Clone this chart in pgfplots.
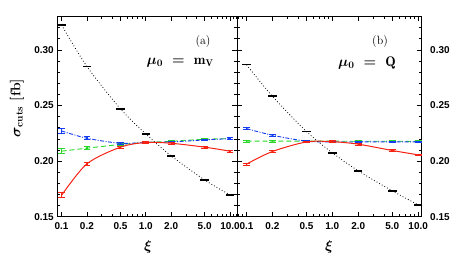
\documentclass[border=0pt]{standalone}
\usepackage{pgfplots}
\pgfplotsset{compat=1.18}
\usepackage{pgfplotstable}
\usepackage{amsmath}
\usepackage{fontspec}
\setsansfont{Liberation Sans}
\definecolor{cred}{RGB}{245,35,20}
\definecolor{cblue}{RGB}{20,60,240}
\definecolor{cgreen}{RGB}{40,215,40}

\pgfplotstableread{
x     black   blue    green   red     ered
0.1   0.3223  0.2271  0.2089  0.1692  0.0022
0.2   0.2850  0.2205  0.2116  0.1975  0.0012
0.5   0.2470  0.2160  0.2149  0.2125  0.0008
1.0   0.2244  0.2167  0.2167  0.2167  0.0008
2.0   0.2047  0.2172  0.2178  0.2160  0.0008
5.0   0.1830  0.2190  0.2196  0.2125  0.0008
10.0  0.1696  0.2202  0.2202  0.2089  0.0008
}\tabA

\pgfplotstableread{
x     black   blue    green   red     ered
0.1   0.2866  0.2292  0.2179  0.1973  0.0010
0.2   0.2583  0.2232  0.2179  0.2086  0.0008
0.5   0.2265  0.2179  0.2179  0.2172  0.0008
1.0   0.2074  0.2172  0.2179  0.2174  0.0008
2.0   0.1913  0.2172  0.2178  0.2152  0.0008
5.0   0.1732  0.2172  0.2178  0.2095  0.0008
10.0  0.1607  0.2172  0.2177  0.2056  0.0008
}\tabB

\begin{document}
\begin{tikzpicture}
\path[use as bounding box] (0bp,0bp) rectangle (472bp,257bp);

\begin{axis}[at={(57.3bp,40.3bp)}, anchor=south west, width=180bp,
  xmin=0.089, xmax=12.2,
    scale only axis, xmode=log, ymin=0.15, ymax=0.3304, height=200.7bp,
    xtick={0.1,0.2,0.5,1,2,5,10},
    xticklabels={0.1,0.2,0.5,1.0,2.0,5.0,10.0},
    minor xtick={0.08,0.09,0.3,0.4,0.6,0.7,0.8,0.9,3,4,6,7,8,9,11,12},
    ytick={0.15,0.20,0.25,0.30},
    minor ytick={0.16,0.17,0.18,0.19,0.21,0.22,0.23,0.24,0.26,0.27,0.28,0.29,0.31,0.32,0.33},
    yticklabels={0.15,0.20,0.25,0.30},
    tick align=inside, major tick length=5bp, minor tick length=3bp,
    tick style={black, line width=0.6pt},
    axis line style={line width=0.8pt},
    ticklabel style={font=\sffamily\bfseries\fontsize{10}{11}\selectfont},
    xticklabel style={yshift=-2.5bp},
    clip=false]
\addplot[cgreen, dash pattern=on 5pt off 3pt, line width=0.9pt, smooth, mark=none,
     error bars/.cd, y dir=both, y explicit, error mark=|, error mark options={cgreen, solid, mark size=3.4bp, line width=0.9pt}, error bar style={solid, line width=1.2pt}]
  table[x=x, y=green, y error=ered] {\tabA};
\addplot[cblue, dash pattern=on 4pt off 1.5pt on 1pt off 1.5pt, line width=0.9pt, smooth, mark=none,
     error bars/.cd, y dir=both, y explicit, error mark=|, error mark options={cblue, solid, mark size=3.4bp, line width=0.9pt}, error bar style={solid, line width=1.2pt}]
  table[x=x, y=blue, y error=ered] {\tabA};
\addplot[cred, solid, line width=1pt, smooth, mark=none,
     error bars/.cd, y dir=both, y explicit, error mark=|, error mark options={cred, solid, mark size=3.4bp, line width=0.9pt}, error bar style={solid, line width=1.2pt}]
  table[x=x, y=red, y error=ered] {\tabA};
\addplot[black, dash pattern=on 0.8pt off 2.2pt, line width=0.8pt, smooth, mark=-, mark size=4.2bp, mark options={solid, line width=1.5bp}]
  table[x=x, y=black] {\tabA};
\end{axis}

\begin{axis}[at={(237.3bp,40.3bp)}, anchor=south west, width=184.4bp,
  xmin=0.078, xmax=11, yticklabel pos=right,
    scale only axis, xmode=log, ymin=0.15, ymax=0.3304, height=200.7bp,
    xtick={0.1,0.2,0.5,1,2,5,10},
    xticklabels={0.1,0.2,0.5,1.0,2.0,5.0,10.0},
    minor xtick={0.08,0.09,0.3,0.4,0.6,0.7,0.8,0.9,3,4,6,7,8,9,11,12},
    ytick={0.15,0.20,0.25,0.30},
    minor ytick={0.16,0.17,0.18,0.19,0.21,0.22,0.23,0.24,0.26,0.27,0.28,0.29,0.31,0.32,0.33},
    yticklabels={0.15,0.20,0.25,0.30},
    tick align=inside, major tick length=5bp, minor tick length=3bp,
    tick style={black, line width=0.6pt},
    axis line style={line width=0.8pt},
    ticklabel style={font=\sffamily\bfseries\fontsize{10}{11}\selectfont},
    xticklabel style={yshift=-2.5bp},
    yticklabel style={xshift=5bp},
    clip=false]
\addplot[cgreen, dash pattern=on 5pt off 3pt, line width=0.9pt, smooth, mark=none,
     error bars/.cd, y dir=both, y explicit, error mark=|, error mark options={cgreen, solid, mark size=3.4bp, line width=0.9pt}, error bar style={solid, line width=1.2pt}]
  table[x=x, y=green, y error=ered] {\tabB};
\addplot[cblue, dash pattern=on 4pt off 1.5pt on 1pt off 1.5pt, line width=0.9pt, smooth, mark=none,
     error bars/.cd, y dir=both, y explicit, error mark=|, error mark options={cblue, solid, mark size=3.4bp, line width=0.9pt}, error bar style={solid, line width=1.2pt}]
  table[x=x, y=blue, y error=ered] {\tabB};
\addplot[cred, solid, line width=1pt, smooth, mark=none,
     error bars/.cd, y dir=both, y explicit, error mark=|, error mark options={cred, solid, mark size=3.4bp, line width=0.9pt}, error bar style={solid, line width=1.2pt}]
  table[x=x, y=red, y error=ered] {\tabB};
\addplot[black, dash pattern=on 0.8pt off 2.2pt, line width=0.8pt, smooth, mark=-, mark size=4.2bp, mark options={solid, line width=1.5bp}]
  table[x=x, y=black] {\tabB};
\end{axis}

\node[rotate=90, font=\fontsize{14}{16}\selectfont\bfseries\boldmath] at (17bp,149bp) {$\sigma_{\mathbf{cuts}}$ [fb]};
\node[font=\fontsize{14}{16}\selectfont\boldmath] at (148bp,10bp) {$\xi$};
\node[font=\fontsize{14}{16}\selectfont\boldmath] at (329bp,10bp) {$\xi$};
\node[font=\fontsize{12}{14}\selectfont] at (203bp,215bp) {(a)};
\node[font=\fontsize{14}{16}\selectfont\boldmath] at (180bp,194bp) {$\mu_0\;=\;\mathrm{m_V}$};
\node[font=\fontsize{12}{14}\selectfont] at (380bp,215bp) {(b)};
\node[font=\fontsize{14}{16}\selectfont\boldmath] at (367bp,194bp) {$\mu_0\;=\;\mathrm{Q}$};
\end{tikzpicture}
\end{document}
